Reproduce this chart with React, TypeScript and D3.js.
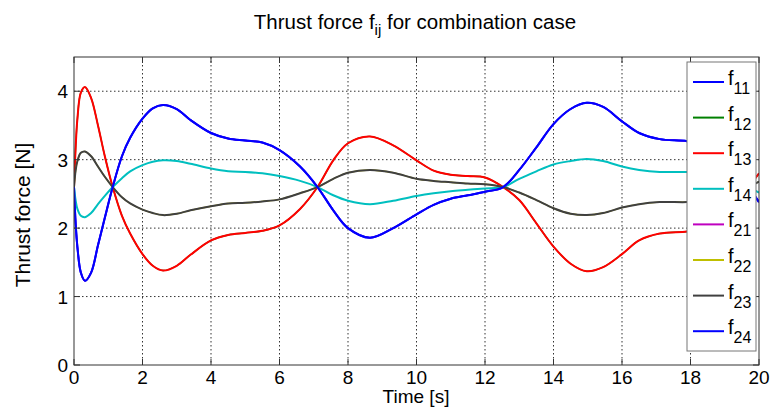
import React from "react";
import * as d3 from "d3";

// ---- data ----
const time = [0, 0.05, 0.1, 0.2, 0.32, 0.5, 0.7, 0.9, 1.13, 1.4, 1.64, 2.0, 2.3, 2.6, 3.0, 3.4, 4.0, 4.5, 5.0, 5.5, 6.0, 6.6, 7.11, 7.57, 8.0, 8.64, 9.32, 10.0, 10.5, 11.0, 11.5, 12.0, 12.53, 13.0, 13.5, 14.0, 14.5, 14.97, 15.45, 16.0, 16.5, 17.1, 17.9, 18.5, 19.0, 19.4, 19.7, 20.0];

const f11 = [2.6, 2.05, 1.72, 1.35, 1.23, 1.35, 1.75, 2.15, 2.6, 3.05, 3.32, 3.6, 3.75, 3.8, 3.74, 3.58, 3.39, 3.31, 3.28, 3.25, 3.14, 2.9, 2.6, 2.26, 2.0, 1.86, 2.0, 2.2, 2.34, 2.43, 2.48, 2.53, 2.6, 2.85, 3.18, 3.52, 3.74, 3.83, 3.77, 3.56, 3.39, 3.3, 3.27, 3.2, 3.0, 2.8, 2.6, 2.38];
const f13 = [2.6, 3.2, 3.6, 3.98, 4.06, 3.9, 3.5, 3.05, 2.6, 2.18, 1.92, 1.62, 1.45, 1.38, 1.45, 1.61, 1.82, 1.9, 1.93, 1.96, 2.04, 2.28, 2.6, 2.99, 3.24, 3.34, 3.21, 2.99, 2.84, 2.78, 2.76, 2.74, 2.6, 2.41, 2.07, 1.73, 1.48, 1.37, 1.43, 1.62, 1.82, 1.92, 1.95, 2.0, 2.2, 2.4, 2.6, 2.8];
const f14 = [2.6, 2.4, 2.28, 2.18, 2.16, 2.22, 2.35, 2.47, 2.6, 2.73, 2.83, 2.92, 2.97, 2.99, 2.98, 2.94, 2.87, 2.83, 2.82, 2.8, 2.76, 2.69, 2.6, 2.48, 2.4, 2.35, 2.4, 2.47, 2.51, 2.54, 2.56, 2.58, 2.6, 2.72, 2.83, 2.93, 2.98, 3.01, 2.98, 2.9, 2.85, 2.82, 2.82, 2.8, 2.75, 2.68, 2.6, 2.52];
const f23 = [2.6, 2.85, 2.98, 3.1, 3.12, 3.05, 2.9, 2.75, 2.6, 2.45, 2.36, 2.27, 2.22, 2.19, 2.21, 2.26, 2.32, 2.36, 2.37, 2.39, 2.42, 2.51, 2.6, 2.72, 2.81, 2.85, 2.81, 2.72, 2.69, 2.67, 2.65, 2.64, 2.6, 2.52, 2.41, 2.29, 2.21, 2.19, 2.22, 2.3, 2.35, 2.38, 2.38, 2.4, 2.45, 2.52, 2.6, 2.68];
const f12 = f13;
const f21 = f11;
const f22 = f23;
const f24 = f11;

const seriesNames = ["11", "12", "13", "14", "21", "22", "23", "24"];
const seriesValues = [f11, f12, f13, f14, f21, f22, f23, f24];
const seriesColors = ["#0000ff", "#008000", "#ff0000", "#00bfbf", "#bf00bf", "#bfbf00", "#404040", "#0000ff"];
// series fully hidden under a later identical one
const hidden = [false, true, false, false, true, true, false, false];

const xTicks = [0, 2, 4, 6, 8, 10, 12, 14, 16, 18, 20];
const yTicks = [0, 1, 2, 3, 4];

const W = 771, H = 407;
const L = 74, R = 759, T = 57, B = 365;
const FONT = "'Liberation Sans', Arial, Helvetica, sans-serif";

export default function App() {
  const x = d3.scaleLinear().domain([0, 20]).range([L, R]);
  const y = d3.scaleLinear().domain([0, 4.5]).range([B, T]);
  const line = d3
    .line<number>()
    .x((_, i) => x(time[i]))
    .y((d) => y(d))
    .curve(d3.curveCatmullRom.alpha(0.5));

  const gridColor = "#333";
  const dash = "1.5,2.5";
  const legX = 687, legY = 62, legW = 69, legH = 289;
  const rowY = (i: number) => legY + 20 + i * 35.6;

  return (
    <svg width={W} height={H} style={{ position: "absolute", left: 0, top: 0, background: "#fff" }} fontFamily={FONT}>
      <rect x={0} y={0} width={W} height={H} fill="#fff" />
      <defs>
        <clipPath id="plotclip">
          <rect x={L} y={T} width={R - L} height={B - T} />
        </clipPath>
      </defs>
      {/* grid */}
      {xTicks.filter((t) => t > 0 && t < 20).map((t) => (
        <line key={"gx" + t} x1={x(t)} x2={x(t)} y1={T} y2={B} stroke={gridColor} strokeWidth={1} strokeDasharray={dash} />
      ))}
      {yTicks.filter((t) => t > 0).map((t) => (
        <line key={"gy" + t} x1={L} x2={R} y1={y(t)} y2={y(t)} stroke={gridColor} strokeWidth={1} strokeDasharray={dash} />
      ))}
      {/* lines */}
      <g clipPath="url(#plotclip)">
        {seriesValues.map((vals, i) => (
          <path key={"s" + i} d={line(vals) || ""} fill="none" stroke={seriesColors[i]} strokeWidth={hidden[i] ? 1.4 : 2} />
        ))}
      </g>
      {/* axes box */}
      <rect x={L} y={T} width={R - L} height={B - T} fill="none" stroke="#333" strokeWidth={1} />
      {xTicks.map((t) => (
        <g key={"tx" + t}>
          <line x1={x(t)} x2={x(t)} y1={B} y2={B - 6} stroke="#333" />
          <line x1={x(t)} x2={x(t)} y1={T} y2={T + 6} stroke="#333" />
          <text x={x(t)} y={B + 19} fontSize={19} textAnchor="middle" fill="#000">{t}</text>
        </g>
      ))}
      {yTicks.map((t) => (
        <g key={"ty" + t}>
          <line x1={L} x2={L + 6} y1={y(t)} y2={y(t)} stroke="#333" />
          <line x1={R} x2={R - 6} y1={y(t)} y2={y(t)} stroke="#333" />
          <text x={L - 6} y={y(t) + 7} fontSize={19} textAnchor="end" fill="#000">{t}</text>
        </g>
      ))}
      {/* labels */}
      <text x={416} y={403} fontSize={19} textAnchor="middle" fill="#000">Time [s]</text>
      <text transform={`translate(30,${215}) rotate(-90)`} fontSize={21} textAnchor="middle" fill="#000">Thrust force [N]</text>
      <text x={415} y={29} fontSize={20.5} textAnchor="middle" fill="#000">
        Thrust force f<tspan fontSize={15} dy={6}>ij</tspan><tspan dy={-6}> for combination case</tspan>
      </text>
      {/* legend */}
      <rect x={legX} y={legY} width={legW} height={legH} fill="#fff" stroke="#777" strokeWidth={1} />
      {seriesNames.map((n, i) => (
        <g key={"lg" + n}>
          <line x1={legX + 6} x2={legX + 37} y1={rowY(i)} y2={rowY(i)} stroke={seriesColors[i]} strokeWidth={2} />
          <text x={legX + 41} y={rowY(i) + 3} fontSize={20} fill="#000">
            f<tspan fontSize={16} dy={9}>{n}</tspan>
          </text>
        </g>
      ))}
    </svg>
  );
}
